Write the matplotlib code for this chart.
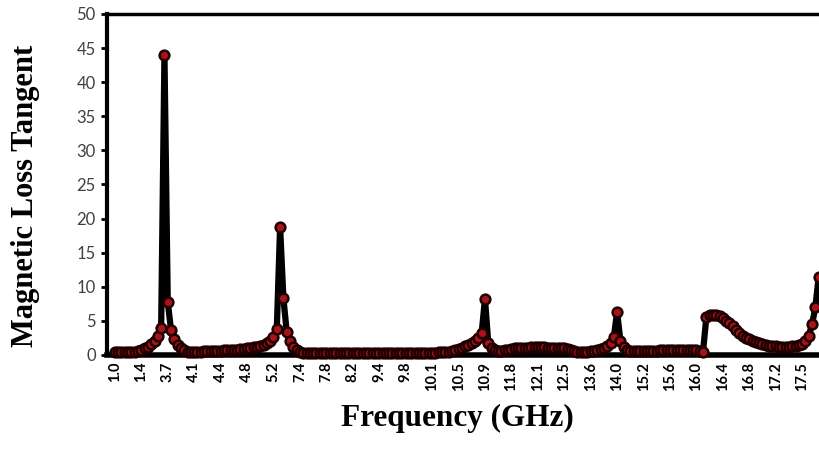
import matplotlib
matplotlib.use("Agg")
import matplotlib.pyplot as plt
import numpy as np

# Magnetic loss tangent, one value per measured point (categorical axis)
loss_tangent = [
    0.4, 0.4, 0.4, 0.4, 0.4,
    0.45, 0.5, 0.6, 0.75, 0.95, 1.2, 1.6, 2.1, 2.8, 4.0,
    44.0, 7.8,
    3.6, 2.3, 1.5, 1.0, 0.7, 0.5,
    0.45, 0.45, 0.5, 0.5, 0.55, 0.55, 0.6, 0.6, 0.65, 0.65, 0.7, 0.7, 0.75,
    0.8, 0.8, 0.85, 0.9, 0.95, 1.0, 1.1, 1.2, 1.3,
    1.45, 1.7, 2.1, 2.7, 3.8,
    18.8, 8.3,
    3.4, 2.0, 1.2, 0.7, 0.45, 0.35,
    0.3, 0.3, 0.3, 0.3, 0.3, 0.3, 0.3, 0.3, 0.3, 0.3,
    0.3, 0.3, 0.3, 0.3, 0.3, 0.3, 0.3, 0.3, 0.3, 0.3,
    0.3, 0.3, 0.3, 0.3, 0.3, 0.3, 0.3, 0.3, 0.3, 0.3,
    0.3, 0.3, 0.3, 0.3, 0.3, 0.3, 0.3, 0.3,
    0.35, 0.35, 0.4, 0.4, 0.45, 0.5, 0.6, 0.7, 0.85, 1.0, 1.3,
    1.5, 1.8, 2.1, 2.5, 3.2,
    8.2,
    1.8, 1.0, 0.7, 0.6,
    0.65, 0.7, 0.8, 0.9, 0.95,
    1.0, 1.0, 1.05, 1.05, 1.1, 1.1, 1.1, 1.1, 1.1, 1.05, 1.05, 1.0, 1.0, 1.0, 0.95, 0.9,
    0.8, 0.65, 0.5,
    0.45, 0.45, 0.5, 0.55, 0.6,
    0.7, 0.85, 1.0, 1.3, 1.7, 2.6,
    6.3,
    2.0, 1.1, 0.7, 0.55,
    0.55, 0.55, 0.6, 0.6, 0.6, 0.65, 0.65, 0.65, 0.7, 0.7, 0.7, 0.75, 0.75, 0.75,
    0.8, 0.8, 0.8, 0.8, 0.75, 0.7, 0.6,
    0.5,
    5.5, 5.8, 5.85, 5.8, 5.65, 5.4, 5.05, 4.65, 4.2, 3.7, 3.2, 2.85, 2.55, 2.3,
    2.1, 1.9, 1.75, 1.6, 1.45, 1.35, 1.3, 1.25, 1.2, 1.2, 1.2, 1.2, 1.25, 1.3,
    1.4, 1.6, 2.0, 2.8, 4.5, 7.0, 11.5,
]

# Frequency labels shown on the category axis (every 8th point)
freq_labels = ["1.0", "1.4", "3.7", "4.1", "4.4", "4.8", "5.2", "7.4", "7.8",
               "8.2", "9.4", "9.8", "10.1", "10.5", "10.9", "11.8", "12.1",
               "12.5", "13.6", "14.0", "15.2", "15.6", "16.0", "16.4", "16.8",
               "17.2", "17.5"]
label_step = 8

y_ticks = [0, 5, 10, 15, 20, 25, 30, 35, 40, 45, 50]

fig = plt.figure(figsize=(8.19, 4.61), dpi=100)
ax = fig.add_axes([0.1306, 0.23, 0.8694, 0.7397])

x = np.arange(len(loss_tangent))
ax.plot(x, loss_tangent, color="black", lw=4.5, marker="o", ms=7,
        mfc="#A81218", mec="#1e0000", mew=1.8, clip_on=False, zorder=3)

ax.set_xlim(-2.4, len(loss_tangent) - 1 + 0.1)
ax.set_ylim(0, 50)

ax.set_xticks(np.arange(len(freq_labels)) * label_step)
ax.set_xticklabels(freq_labels, rotation=90, fontsize=10.5, fontweight="bold",
                   family="Lato")
ax.tick_params(axis="x", length=0, pad=5)

ax.set_yticks(y_ticks)
ax.set_yticklabels([str(v) for v in y_ticks], fontsize=12, family="Lato",
                   color="#404040")
ax.tick_params(axis="y", direction="out", length=4, width=2, pad=4)

for side, lw in [("left", 3), ("top", 2.5), ("bottom", 4)]:
    ax.spines[side].set_linewidth(lw)
    ax.spines[side].set_color("black")
ax.spines["right"].set_visible(False)

fig.text(0.031, 0.575, "Magnetic Loss Tangent", rotation=90, ha="center",
         va="center", fontsize=22, fontweight="bold", family="Liberation Serif")
fig.text(0.559, 0.093, "Frequency (GHz)", ha="center", va="center",
         fontsize=22.5, fontweight="bold", family="Liberation Serif")

fig.savefig("out.png", dpi=100)
